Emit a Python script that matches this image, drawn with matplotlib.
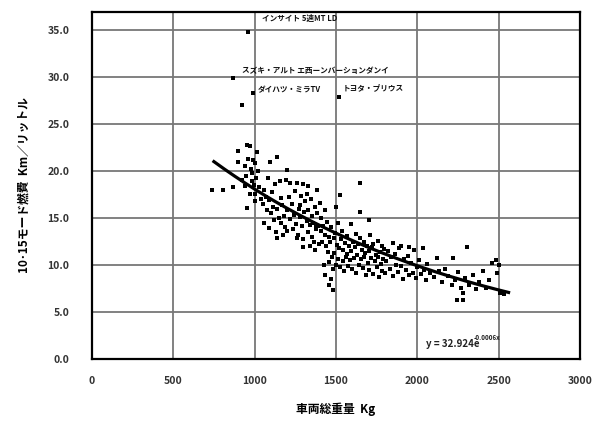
import matplotlib.pyplot as plt
import numpy as np

plt.rcParams['font.family'] = ['Noto Sans CJK JP', 'DejaVu Sans']

# 車両総重量 (kg) と 10・15モード燃費 (km/L) -- 図から読み取り
weight_kg = [
    737, 805, 867, 897, 897, 920, 940, 950, 955, 960, 971, 980, 983, 990, 995, 1002, 1005, 1010,
    953, 970, 985, 1000, 1015, 1020, 940,
    1030, 1040, 1050, 1060, 1070, 1075, 1080, 1090, 1094, 1100, 1105, 1110, 1120, 1125, 1137, 1137,
    1140, 1150, 1155, 1160, 1165, 1170, 1180, 1185, 1190, 1198, 1200, 1200, 1060, 1090, 1130, 1175,
    1210, 1217, 1220, 1230, 1235, 1240, 1250, 1255, 1260, 1265, 1270, 1280, 1285, 1290, 1297, 1300,
    1305, 1310, 1320, 1325, 1328, 1330, 1340, 1345, 1350, 1355, 1360, 1365, 1370, 1375, 1380, 1383,
    1385, 1390, 1395, 1400, 1260, 1300, 1340, 1370, 1280, 1320,
    1405, 1410, 1415, 1420, 1425, 1430, 1432, 1435, 1440, 1445, 1450, 1455, 1460, 1465, 1470, 1475,
    1481, 1480, 1485, 1490, 1495, 1500, 1500, 1505, 1510, 1515, 1520, 1524, 1525, 1530, 1535, 1540,
    1545, 1550, 1555, 1560, 1565, 1570, 1575, 1580, 1585, 1590, 1595, 1600, 1460, 1470,
    1605, 1610, 1615, 1620, 1625, 1630, 1635, 1640, 1647, 1650, 1655, 1660, 1665, 1670, 1675, 1680,
    1685, 1690, 1695, 1700, 1705, 1710, 1715, 1720, 1725, 1730, 1740, 1745, 1750, 1755, 1760, 1765,
    1770, 1775, 1780, 1785, 1790, 1795, 1800, 1650, 1700,
    1810, 1820, 1830, 1840, 1850, 1860, 1870, 1880, 1890, 1900, 1910, 1920, 1930, 1940, 1950, 1960,
    1970, 1980, 1990, 2000, 2010, 2020, 2034, 2040, 2050, 2060, 2080, 2100, 1850, 1900, 1950,
    2120, 2130, 2150, 2170, 2190, 2210, 2219, 2230, 2243, 2250, 2270, 2280, 2280, 2290, 2305, 2320,
    2340, 2360, 2380, 2400, 2420, 2440, 2460, 2480, 2500, 2510, 2530, 2490,
    959, 866, 990, 922, 1518,
]
fuel_km_l = [
    18.0, 18.0, 18.3, 22.1, 21.0, 19.0, 20.5, 19.5, 22.8, 21.3, 22.6, 20.2, 19.8, 21.2, 18.5, 20.8, 17.6, 19.2,
    16.1, 17.5, 18.9, 16.8, 22.0, 20.0, 18.4,
    18.3, 17.0, 16.5, 18.0, 17.2, 15.8, 19.2, 16.9, 21.0, 15.5, 17.8, 16.2, 14.8, 18.6, 21.5, 12.9,
    16.0, 15.0, 18.9, 14.5, 17.1, 16.4, 15.2, 14.0, 19.0, 20.1, 15.8, 13.6, 14.5, 13.9, 13.5, 13.2,
    17.2, 18.7, 14.9, 16.5, 13.8, 15.3, 17.9, 14.4, 18.7, 13.2, 16.0, 15.1, 17.3, 14.2, 18.6, 12.8,
    15.6, 16.8, 14.7, 13.5, 18.4, 15.9, 14.3, 17.0, 13.0, 15.2, 14.5, 12.5, 16.2, 14.0, 13.8, 18.0,
    15.5, 14.2, 12.2, 16.6, 12.9, 11.9, 12.0, 11.6, 16.4, 17.5,
    13.6, 15.0, 12.4, 14.1, 10.0, 13.2, 8.9, 15.8, 12.0, 14.6, 11.4, 13.0, 10.3, 12.5, 14.0, 10.9,
    7.3, 9.6, 12.9, 11.3, 13.4, 10.0, 16.2, 12.1, 14.5, 10.6, 11.8, 17.4, 9.8, 12.8, 13.6, 10.4,
    11.6, 9.4, 12.3, 10.9, 13.1, 11.2, 9.9, 12.0, 10.5, 14.4, 11.5, 9.6, 7.9, 8.5,
    12.5, 10.8, 11.9, 13.3, 9.2, 11.1, 12.2, 10.0, 18.7, 12.9, 10.6, 11.6, 9.7, 12.4, 10.9, 11.3,
    8.9, 12.0, 10.2, 11.5, 9.5, 13.2, 10.7, 11.9, 9.0, 12.2, 10.4, 11.1, 9.8, 12.6, 10.9, 8.7,
    11.4, 10.1, 12.0, 9.4, 10.6, 11.7, 9.1, 15.6, 14.8,
    10.4, 11.5, 9.6, 10.9, 8.8, 11.2, 10.0, 9.3, 11.8, 9.9, 8.5, 10.6, 9.5, 11.0, 8.9, 10.2,
    9.1, 11.6, 8.6, 9.8, 10.5, 9.0, 11.8, 9.5, 8.4, 10.1, 9.2, 8.7, 12.3, 12.0, 11.9,
    10.7, 9.4, 8.2, 9.6, 8.8, 7.9, 10.7, 8.4, 6.3, 9.3, 7.6, 6.3, 7.0, 8.6, 11.9, 7.9,
    8.9, 7.4, 8.2, 9.4, 7.6, 8.4, 10.2, 10.5, 10.0, 7.0, 6.9, 9.2,
    34.8, 29.9, 28.3, 27.0, 27.9,
]

# 近似曲線 y = 32.924 e^(-0.0006x)
fit_a = 32.924
fit_b = -0.0006
fit_range = [750, 2560]

labels = ['インサイト 5速MT LD', 'スズキ・アルト エ西ーンバーションダンイ', 'ダイハツ・ミラTV', 'トヨタ・プリウス']
label_x = [1045, 920, 1020, 1543]
label_y = [36.2, 30.7, 28.6, 28.8]

fig = plt.figure(figsize=(6, 4.26), dpi=100)
ax = fig.add_axes([0.153, 0.157, 0.814, 0.815])

ax.scatter(weight_kg, fuel_km_l, s=6, marker='s', color='black', linewidths=0, zorder=3)

x_fit = np.linspace(fit_range[0], fit_range[1], 200)
ax.plot(x_fit, fit_a * np.exp(fit_b * x_fit), color='black', lw=2.3, zorder=4)

for t, lx, ly in zip(labels, label_x, label_y):
    ax.text(lx, ly, t, fontsize=5.5, fontweight='bold', va='center', ha='left', color='#111111')

ax.text(2050, 1.6, 'y = 32.924e', fontsize=7, fontweight='bold', va='center', color='#222222')
ax.text(2345, 2.3, '-0.0006x', fontsize=4.5, fontweight='bold', va='center', color='#222222')

ax.set_xlim(0, 3000)
ax.set_ylim(0, 36.9)
ax.set_xticks(np.arange(0, 3001, 500))
ax.set_yticks(np.arange(0, 35.1, 5))
ax.set_yticklabels([f'{v:.1f}' for v in np.arange(0, 35.1, 5)])
ax.tick_params(length=0, labelsize=7.5, pad=0)
ax.tick_params(axis='y', pad=16)
ax.tick_params(axis='x', pad=12)
for lab in ax.get_xticklabels() + ax.get_yticklabels():
    lab.set_fontweight('bold')
    lab.set_color('#333333')

ax.grid(True, color='#777777', lw=1.3)
ax.set_axisbelow(True)
for sp in ax.spines.values():
    sp.set_linewidth(1.6)

ax.set_xlabel('車両総重量  Kg', fontsize=8.5, fontweight='bold', labelpad=12)
ax.set_ylabel('10･15モード燃費  Km／リットル', fontsize=8.5, fontweight='bold', labelpad=12)

fig.savefig('out.png', dpi=100)
